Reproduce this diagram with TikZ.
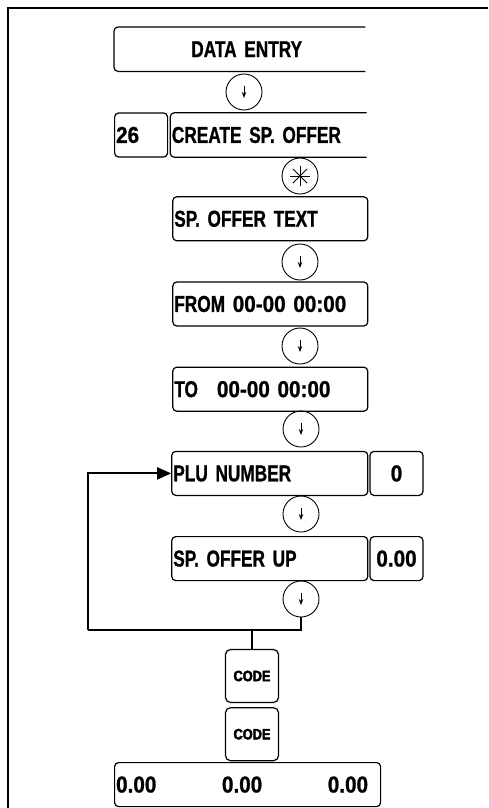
\documentclass[tikz,border=0pt]{standalone}
\usepackage{fontspec}
\newfontfamily\lcdfont[FakeStretch=0.75,FakeBold=1]{Liberation Sans}
\newfontfamily\lcddigfont[FakeStretch=0.9,FakeBold=1]{Liberation Sans}
\newfontfamily\keyfont[FakeStretch=0.85,FakeBold=3]{Liberation Sans}
\newcommand\lcddig[1]{{\lcddigfont\bfseries #1}}
\usetikzlibrary{arrows.meta,positioning}

\begin{document}
\begin{tikzpicture}[
  x=1pt,y=-1pt,
  font=\lcdfont\bfseries\fontsize{23pt}{23pt}\selectfont,
  box/.style={draw,rounded corners=4pt,line width=1.2pt,minimum height=44pt,inner xsep=1.5pt,inner ysep=0pt,text height=15.8pt,text depth=0pt,align=left},
  openbox/.style={rounded corners=4pt,minimum height=44pt,inner xsep=1.5pt,inner ysep=0pt,text height=15.8pt,text depth=0pt},
  sidebox/.style={box,text width=50pt,align=center},
  keybox/.style={draw,rounded corners=5pt,line width=1.2pt,minimum size=53pt,inner sep=0pt,font=\keyfont\bfseries\fontsize{15pt}{15pt}\selectfont},
  stepcirc/.style={circle,draw,line width=0.9pt,minimum size=36pt,inner sep=0pt,
    path picture={\draw[line width=1pt,-{Stealth[length=6pt,width=4.5pt]}] ([yshift=6pt]path picture bounding box.center) -- ([yshift=-6pt]path picture bounding box.center);}},
  starcirc/.style={circle,draw,line width=0.9pt,minimum size=36pt,inner sep=0pt,
    path picture={\foreach \a in {0,45,90,135} \draw[line width=0.8pt] ([shift={(\a:10pt)}]path picture bounding box.center) -- ([shift={(\a+180:10pt)}]path picture bounding box.center);}},
  sides/.style={line width=1.2pt,rounded corners=4pt},
  loopline/.style={line width=2pt}
]
\useasboundingbox (0,0) rectangle (488,808);
\draw[line width=2.2pt] (8,808) -- (8,8) -- (488,8);

% menu header and selection
\node[openbox,text width=248pt,align=center,anchor=north west] (dataentry) at (114,27) {\hspace*{14pt}DATA ENTRY};
\draw[sides] (dataentry.north east) -| (dataentry.west) |- (dataentry.south east);
\node[box,text width=50pt,below right=41pt and 0pt of dataentry.south west] (menuno) {\lcddig{26}};
\node[openbox,text width=193pt,align=left,right=2pt of menuno] (create) {CREATE SP. OFFER};
\draw[sides] (create.north east) -| (create.west) |- (create.south east);

% entry steps
\node[box,text width=192pt,below right=39pt and 2pt of create.south west] (offertext) {SP. OFFER TEXT};
\node[box,text width=192pt,below=40pt of offertext] (fromtime) {FROM \lcddig{00-00 00:00}};
\node[box,text width=192pt,below=40pt of fromtime] (totime) {TO\hspace*{19pt}\lcddig{00-00 00:00}};
\node[box,text width=193pt,below right=39pt and -1pt of totime.south west] (plu) {PLU NUMBER};
\node[sidebox,right=1pt of plu] (pluval) {\lcddig{0}};
\node[box,text width=193pt,below=40pt of plu] (offerup) {SP. OFFER UP};
\node[sidebox,right=1pt of offerup] (upval) {\lcddig{0.00}};

% keys between steps
\node[stepcirc] (k1) at (244,92) {};
\node[starcirc] (k2) at (300,176) {};
\node[stepcirc] (k3) at (300,262) {};
\node[stepcirc] (k4) at (300,346) {};
\node[stepcirc] (k5) at (301,429) {};
\node[stepcirc] (k6) at (301,514) {};
\node[stepcirc] (k7) at (301,599) {};

% exit
\node[keybox] (code1) at (252,676) {CODE};
\node[keybox,below=4pt of code1] (code2) {CODE};
\node[box,text width=263pt,anchor=north west] (totals) at (114,762) {\makebox[252pt][l]{\lcddig{0.00}\hfill\lcddig{0.00}\hfill\lcddig{0.00}}};

\coordinate (turn) at (88,630);
\draw[loopline] (k7.south) |- (turn);
\draw[loopline,-{Triangle[length=14pt,width=12pt]}] (turn) |- (plu.west);
\draw[line width=1.5pt] (code1.north) -- (code1.north |- turn);
\end{tikzpicture}
\end{document}
